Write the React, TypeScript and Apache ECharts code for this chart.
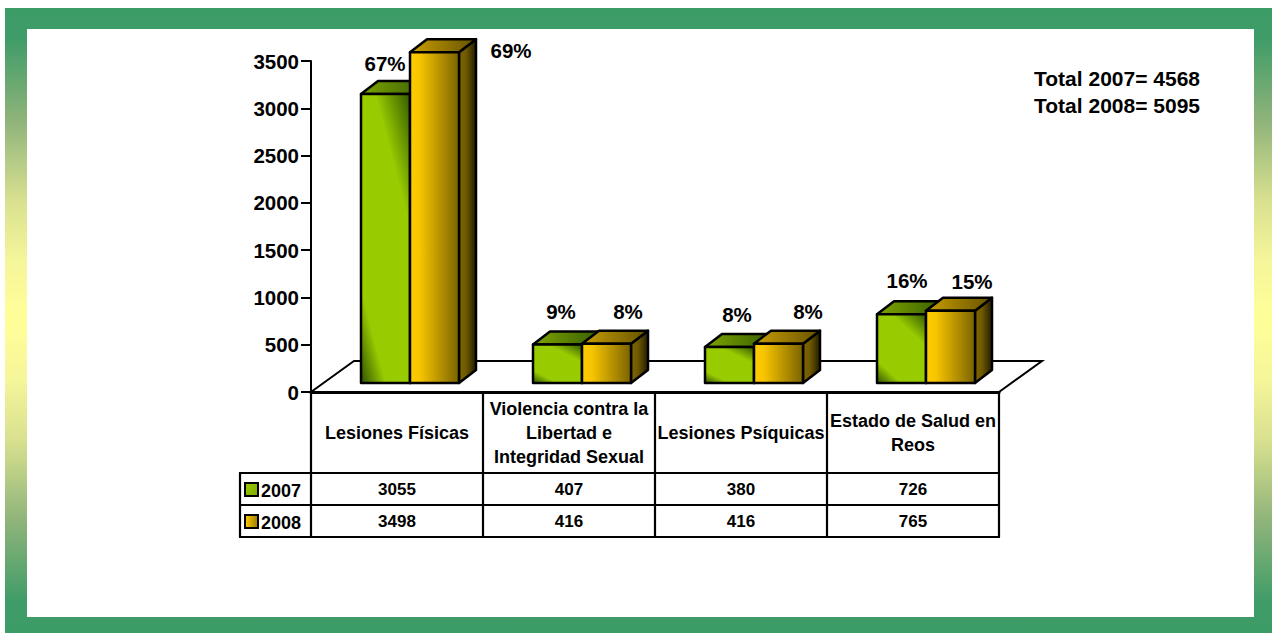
import React, { useEffect, useRef } from "react";
import * as echarts from "echarts";

const categories = [
  "Lesiones Físicas",
  "Violencia contra la\nLibertad e\nIntegridad Sexual",
  "Lesiones Psíquicas",
  "Estado de Salud en\nReos",
];
const years = ["2007", "2008"];
const values2007 = [3055, 407, 380, 726];
const values2008 = [3498, 416, 416, 765];
const percent2007 = ["67%", "9%", "8%", "16%"];
const percent2008 = ["69%", "8%", "8%", "15%"];
const totals = ["Total 2007= 4568", "Total 2008= 5095"];
const yTicks = { min: 0, max: 3500, interval: 500 };

// Label nudges relative to the top centre of each bar's front face
const nudge2007 = [[-0.5, -31], [3.5, -33], [7.5, -33], [5.5, -34]];
const nudge2008 = [[76.5, -2], [21.5, -32.6], [29.5, -32.6], [21.5, -29.6]];

const FONT = '"Liberation Sans", Arial, sans-serif';
const G = { l: 311, r: 999, t: 61, b: 392 };
const BAR_W = 49;
const SHIFT_X = 13;
const LIFT = 9;
const DX = 17;
const DY = 13;
const COL = 172;
const ROWS = [473, 505, 537];
const TABLE_L = 240;

const lin = (x: number, y: number, x2: number, y2: number, stops: [number, string][]) =>
  new echarts.graphic.LinearGradient(x, y, x2, y2, stops.map(([offset, color]) => ({ offset, color })));

const styles = [
  {
    front: () => lin(0, 1, 0.75, -0.16, [[0, "#2e5000"], [0.2, "#99cc00"], [0.72, "#99cc00"], [1, "#335a00"]]),
    top: () => lin(0, 0, 1, 0, [[0, "#7fa300"], [1, "#386000"]]),
    side: () => lin(0, 0, 1, 0, [[0, "#386000"], [1, "#142800"]]),
  },
  {
    front: () => lin(0, 0, 1, 0, [[0, "#ffcc00"], [0.2, "#f7c500"], [1, "#7a6200"]]),
    top: () => lin(0, 0, 1, 0, [[0, "#c99f00"], [1, "#665200"]]),
    side: () => lin(0, 0, 1, 0, [[0, "#806600"], [0.4, "#705a00"], [1, "#241c00"]]),
  },
];

function barSeries(name: string, data: number[], idx: number, pct: string[], nudge: number[][]) {
  return {
    type: "custom",
    name,
    data: data.map((v, i) => [i, v]),
    encode: { x: 0, y: 1 },
    silent: true,
    renderItem: (params: any, api: any) => {
      const cat = api.value(0);
      const [cx, y0] = api.coord([cat, 0]);
      const [, yv] = api.coord([cat, api.value(1)]);
      const x = cx + SHIFT_X + (idx === 0 ? -BAR_W : 0);
      const base = y0 - LIFT;
      const top = base - (y0 - yv);
      const st = styles[idx];
      const line = { stroke: "#000", lineWidth: 2.5, lineJoin: "round" };
      const n = nudge[params.dataIndex];
      return {
        type: "group",
        children: [
          {
            type: "polygon",
            shape: { points: [[x + BAR_W, top], [x + BAR_W + DX, top - DY], [x + BAR_W + DX, base - DY], [x + BAR_W, base]] },
            style: { fill: st.side(), ...line },
          },
          {
            type: "polygon",
            shape: { points: [[x, top], [x + DX, top - DY], [x + BAR_W + DX, top - DY], [x + BAR_W, top]] },
            style: { fill: st.top(), ...line },
          },
          {
            type: "rect",
            shape: { x, y: top, width: BAR_W, height: base - top },
            style: { fill: st.front(), ...line },
          },
          {
            type: "text",
            z2: 50,
            style: {
              text: pct[params.dataIndex],
              x: x + BAR_W / 2 + n[0],
              y: top + n[1],
              align: "center",
              verticalAlign: "middle",
              font: `bold 20.5px ${FONT}`,
              fill: "#000",
            },
          },
        ],
      };
    },
  };
}

function tableGraphics() {
  const items: any[] = [];
  const stroke = { stroke: "#000", lineWidth: 2.2 };
  const hLine = (y: number, x1: number, x2: number) =>
    items.push({ type: "line", z: 1, shape: { x1, y1: y, x2, y2: y }, style: stroke });
  const vLine = (x: number, y1: number, y2: number) =>
    items.push({ type: "line", z: 1, shape: { x1: x, y1, x2: x, y2 }, style: stroke });
  ROWS.forEach((y) => hLine(y, TABLE_L - 1, G.r + 1));
  for (let i = 0; i <= categories.length; i++) vLine(G.l + i * COL, G.b, ROWS[2]);
  vLine(TABLE_L, ROWS[0], ROWS[2]);

  [values2007, values2008].forEach((vals, r) => {
    const cy = ROWS[r] + 16;
    vals.forEach((v, c) =>
      items.push({
        type: "text",
        z: 3,
        x: G.l + COL * c + COL / 2,
        y: cy,
        style: { text: String(v), font: `bold 17px ${FONT}`, fill: "#000", align: "center", verticalAlign: "middle" },
      })
    );
    items.push({
      type: "rect",
      z: 3,
      shape: { x: 245, y: cy - 6, width: 13, height: 13 },
      style: {
        fill:
          r === 0
            ? lin(0, 0, 1, 1, [[0, "#99cc00"], [1, "#7fa800"]])
            : lin(0, 0, 1, 0, [[0, "#ffcc00"], [1, "#9c7c00"]]),
        stroke: "#000",
        lineWidth: 2,
      },
    });
    items.push({
      type: "text",
      z: 3,
      x: 261,
      y: cy + 2,
      style: { text: years[r], font: `bold 18px ${FONT}`, fill: "#000", align: "left", verticalAlign: "middle" },
    });
  });
  return items;
}

export default function App() {
  const ref = useRef<HTMLDivElement>(null);
  useEffect(() => {
    document.body.style.margin = "0";
    const chart = echarts.init(ref.current!, undefined, { renderer: "svg" });
    chart.setOption({
      animation: false,
      backgroundColor: "#ffffff",
      grid: { left: G.l, top: G.t, width: G.r - G.l, height: G.b - G.t },
      xAxis: {
        type: "category",
        data: categories,
        axisLine: { lineStyle: { color: "#000", width: 3 } },
        axisTick: { show: false },
        axisLabel: {
          interval: 0,
          color: "#000",
          fontFamily: FONT,
          fontWeight: "bold",
          fontSize: 18,
          lineHeight: 24,
          margin: 41,
          verticalAlign: "middle",
        },
      },
      yAxis: {
        type: "value",
        ...yTicks,
        axisLine: { show: true, lineStyle: { color: "#000", width: 2 } },
        axisTick: { show: true, length: 10, lineStyle: { color: "#000", width: 2 } },
        splitLine: { show: false },
        axisLabel: {
          color: "#000",
          fontFamily: FONT,
          fontWeight: "bold",
          fontSize: 20.5,
          margin: 12,
          formatter: (v: number) => String(v),
        },
      },
      series: [
        barSeries(years[0], values2007, 0, percent2007, nudge2007),
        barSeries(years[1], values2008, 1, percent2008, nudge2008),
      ],
      graphic: [
        {
          type: "rect",
          z: -10,
          silent: true,
          shape: { x: 5, y: 8, width: 1267, height: 625 },
          style: {
            fill: lin(0, 0, 0, 1, [
              [0, "#3c9c66"],
              [0.05, "#3f9c68"],
              [0.181, "#90b47a"],
              [0.307, "#d8e08f"],
              [0.403, "#f5f59a"],
              [0.5, "#ffff99"],
              [0.597, "#f5f59a"],
              [0.693, "#d8e08f"],
              [0.819, "#90b47a"],
              [0.95, "#3f9c68"],
              [1, "#3c9c66"],
            ]),
          },
        },
        {
          type: "rect",
          z: -9,
          silent: true,
          shape: { x: 27, y: 29, width: 1227, height: 588 },
          style: { fill: "#ffffff" },
        },
        {
          type: "polyline",
          z: 1,
          silent: true,
          shape: { points: [[G.l, G.b], [G.l + 43, G.b - 31], [G.r + 43, G.b - 31], [G.r, G.b]] },
          style: { stroke: "#000", lineWidth: 2, fill: null },
        },
        ...tableGraphics(),
        ...totals.map((t, i) => ({
          type: "text",
          z: 3,
          x: 1200,
          y: 78 + i * 27,
          style: { text: t, font: `bold 21px ${FONT}`, fill: "#000", align: "right", verticalAlign: "middle" },
        })),
      ],
    });
    return () => chart.dispose();
  }, []);
  return <div ref={ref} style={{ width: 1272, height: 633 }} />;
}
